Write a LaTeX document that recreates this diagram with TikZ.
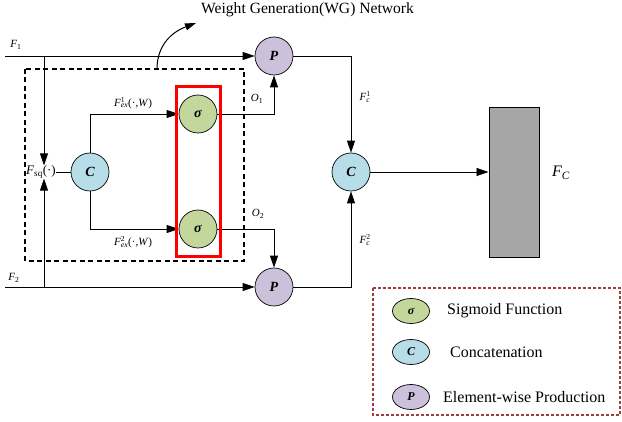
\documentclass[tikz,border=0pt]{standalone}
\usepackage{fontspec}
\setmainfont{Liberation Serif}
\usetikzlibrary{arrows.meta,shapes.geometric}
\definecolor{sigg}{HTML}{C3D69B}
\definecolor{conb}{HTML}{B7DEE8}
\definecolor{prodp}{HTML}{CCC0DA}
\definecolor{legred}{HTML}{A0403A}
\definecolor{barg}{HTML}{A6A6A6}
% italic letter with a subscript / a stacked super- and subscript
\newcommand{\vsub}[2]{\textit{#1}\textsubscript{#2}}
\newcommand{\vsubsup}[3]{\textit{#1}\rlap{\textsuperscript{#3}}\textsubscript{\textit{#2}}}
\begin{document}
\begin{tikzpicture}[x=1pt,y=-1pt,
  op/.style={circle, draw, line width=0.7pt, minimum size=38pt, inner sep=0pt,
    font=\fontsize{14}{14}\selectfont\bfseries\itshape},
  legop/.style={ellipse, draw, line width=0.7pt, minimum width=37pt, minimum height=25pt,
    inner sep=0pt, font=\fontsize{12}{12}\selectfont\bfseries\itshape},
  wire/.style={line width=0.8pt},
  arr/.style={wire, -{Triangle[length=12pt,width=8pt]}},
  lab/.style={font=\fontsize{11}{12}\selectfont, inner sep=1pt},
  legtext/.style={font=\fontsize{16}{17}\selectfont, anchor=west, inner sep=0pt}]
\useasboundingbox (0,0) rectangle (622,422);

% operator nodes
\node[op, fill=sigg]  (s1) at (198,114) {σ};
\node[op, fill=sigg]  (s2) at (198,229) {σ};
\node[op, fill=conb]  (c1) at (90,172)  {C};
\node[op, fill=conb]  (c2) at (351,172) {C};
\node[op, fill=prodp] (p1) at (274,56)  {P};
\node[op, fill=prodp] (p2) at (274,287) {P};
\node[draw, line width=1pt, fill=barg, minimum width=50pt, minimum height=150pt,
  inner sep=0pt] (fc) at (514,183) {};

% squeeze label and input lines
\node[font=\fontsize{13}{14}\selectfont, inner sep=0pt] (fsq) at (41,172) {\vsub{F}{sq}(·)};
\coordinate (f1s) at (5,56);
\coordinate (f2s) at (5,287);
\coordinate (j1) at (44,56);
\coordinate (j2) at (44,287);
\node[lab] (lf1) at (16,45) {\vsub{F}{1}};
\node[lab] (lf2) at (14,278) {\vsub{F}{2}};
\draw[arr] (f1s) -- (p1.west);
\draw[arr] (f2s) -- (p2.west);
\draw[arr] (j1) -- (j1 |- fsq.north);
\draw[arr] (j2) -- (j2 |- fsq.south);
\draw[wire] (fsq.east) -- (c1.west);

% excitation branches
\draw[arr] (c1.north) |- (s1.west);
\draw[arr] (c1.south) |- (s2.west);
\node[lab] (lex1) at (133,103) {\vsubsup{F}{ex}{1}(·,\textit{W})};
\node[lab] (lex2) at (133,242) {\vsubsup{F}{ex}{2}(·,\textit{W})};

% re-weighting
\draw[arr] (s1.east) -| (p1.south);
\draw[arr] (s2.east) -| (p2.north);
\node[lab] (lo1) at (257,99) {\vsub{O}{1}};
\node[lab] (lo2) at (258,214) {\vsub{O}{2}};

% fusion
\draw[arr] (p1.east) -| (c2.north);
\draw[arr] (p2.east) -| (c2.south);
\node[lab] (lc1) at (365,97) {\vsubsup{F}{c}{1}};
\node[lab] (lc2) at (365,240) {\vsubsup{F}{c}{2}};
\draw[arr] (c2.east) -- (c2 -| fc.west);
\node[font=\fontsize{16}{17}\selectfont, inner sep=0pt] (lfc) at (561,173) {\vsub{F}{\textit{C}}};

% weight generation block
\draw[line width=2.2pt, dash pattern=on 5pt off 3.5pt] (25,69) rectangle (244,261);
\draw[red, line width=3pt] (176,87) rectangle (220,257);
\coordinate (wgs) at (157,69);
\coordinate (wge) at (196,23);
\draw[wire, line width=1pt, -{Triangle[length=11pt,width=7pt]}] (wgs) .. controls (157,45) and (172,32) .. (wge);
\node[font=\fontsize{15.6}{16}\selectfont, anchor=west, inner sep=0pt] (wgl) at (201,10) {Weight Generation(WG) Network};

% legend
\draw[legred, line width=1.2pt, dash pattern=on 3pt off 2pt] (373,288) rectangle (620,415);
\node[legop, fill=sigg]  (ls) at (411,311) {σ};
\node[legop, fill=conb]  (lc) at (411,352) {C};
\node[legop, fill=prodp] (lp) at (411,397) {P};
\node[legtext] (ts) at (447,311) {Sigmoid Function};
\node[legtext] (tc) at (450,352) {Concatenation};
\node[legtext] (tp) at (443,397) {Element-wise Production};
\end{tikzpicture}
\end{document}
